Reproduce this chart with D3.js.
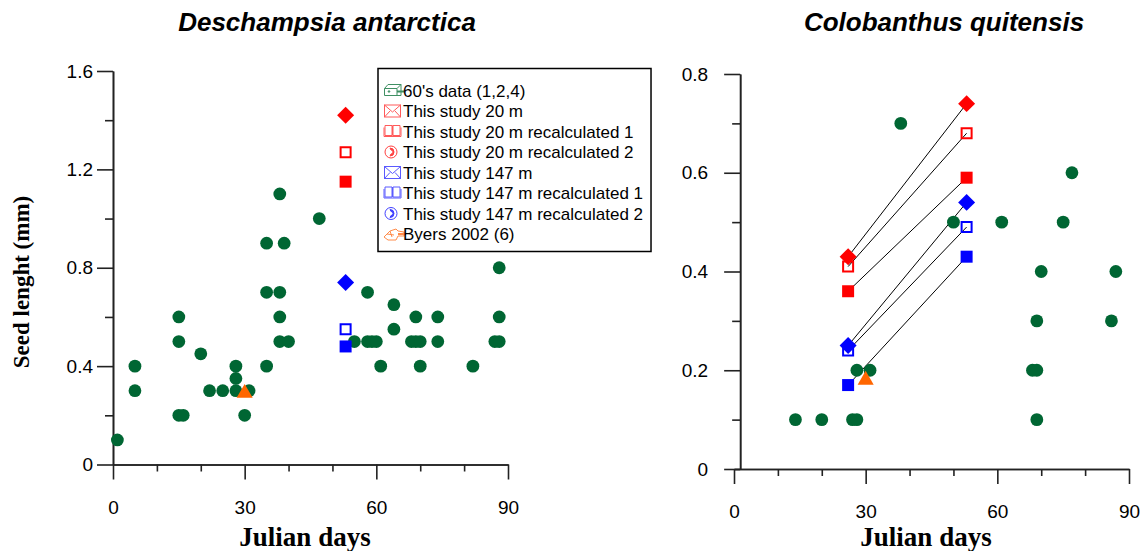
<!DOCTYPE html>
<html>
<head>
<meta charset="utf-8">
<script src="https://cdn.jsdelivr.net/npm/d3@7"></script>
<style>
  body { margin: 0; background: #fff; }
  svg { display: block; }
  .tick text { font-family: "Liberation Sans", Arial, sans-serif; font-size: 19px; fill: #000; }
  .domain, .tick line { stroke: #222; stroke-width: 1.6; }
  .title { font-family: "Liberation Sans", Arial, sans-serif; font-size: 26px; font-weight: bold; font-style: italic; }
  .axis-label { font-family: "Liberation Serif", "Times New Roman", serif; font-weight: bold; }
  .legend text { font-family: "Liberation Sans", Arial, sans-serif; font-size: 17px; }
</style>
</head>
<body>
<svg id="chart" width="1142" height="551"></svg>
<script>
const svg = d3.select("#chart");

// ---- ticks ----
var dayTicks = [0, 30, 60, 90];
var dayMinor = [10, 20, 40, 50, 70, 80];
var deschTicks = [0, 0.4, 0.8, 1.2, 1.6];
var deschMinor = [0.2, 0.6, 1.0, 1.4];
var coloTicks = [0, 0.2, 0.4, 0.6, 0.8];
var coloMinor = [0.1, 0.3, 0.5, 0.7];

var legendLabels = ["60's data (1,2,4)", "This study 20 m", "This study 20 m recalculated 1",
                    "This study 20 m recalculated 2", "This study 147 m", "This study 147 m recalculated 1",
                    "This study 147 m recalculated 2", "Byers 2002 (6)"];

// ---- Deschampsia antarctica: [julian day, seed length mm] ----
var desch60s = [[1,0.1],[5,0.4],[5,0.3],[15,0.6],[15,0.5],[15,0.2],[16,0.2],[20,0.45],[22,0.3],
                [25,0.3],[28,0.4],[28,0.35],[28,0.3],[30,0.2],[31,0.3],[35,0.9],[35,0.7],[35,0.4],
                [38,1.1],[38,0.7],[38,0.6],[38,0.5],[39,0.9],[40,0.5],[47,1.0],[55,0.5],[58,0.7],
                [58,0.5],[59,0.5],[60,0.5],[61,0.4],[64,0.65],[64,0.55],[68,0.5],[69,0.6],[69,0.5],
                [70,0.5],[70,0.4],[74,0.6],[74,0.5],[82,0.4],[87,0.5],[88,0.8],[88,0.6],[88,0.5]];
var deschStudy20 = [[53, 1.42]];
var deschStudy20r1 = [[53, 1.27]];
var deschStudy20r2 = [[53, 1.15]];
var deschStudy147 = [[53, 0.74]];
var deschStudy147r1 = [[53, 0.55]];
var deschStudy147r2 = [[53, 0.48]];
var deschByers = [[30, 0.29]];

// ---- Colobanthus quitensis ----
var colo60s = [[14,0.1],[20,0.1],[27,0.1],[28,0.1],[28,0.2],[31,0.2],[38,0.7],[50,0.5],[61,0.5],
               [68,0.2],[69,0.2],[69,0.3],[69,0.1],[70,0.4],[75,0.5],[77,0.6],[86,0.3],[87,0.4]];
var coloStudy20 = [[26, 0.43], [53, 0.74]];
var coloStudy20r1 = [[26, 0.41], [53, 0.68]];
var coloStudy20r2 = [[26, 0.36], [53, 0.59]];
var coloStudy147 = [[26, 0.25], [53, 0.54]];
var coloStudy147r1 = [[26, 0.24], [53, 0.49]];
var coloStudy147r2 = [[26, 0.17], [53, 0.43]];
var coloByers = [[30, 0.18]];

// marker style per series (legend order)
var seriesStyle = [
  {color: "#006633", shape: "circle",   icon: "cabinet",  iconColor: "#3f8f63"},
  {color: "#ff0000", shape: "diamond",  icon: "envelope", iconColor: "#ff5a5a"},
  {color: "#ff0000", shape: "open",     icon: "book",     iconColor: "#ff5a5a"},
  {color: "#ff0000", shape: "square",   icon: "phone",    iconColor: "#ff4040"},
  {color: "#0000ff", shape: "diamond",  icon: "envelope", iconColor: "#5a5aff"},
  {color: "#0000ff", shape: "open",     icon: "book",     iconColor: "#5a5aff"},
  {color: "#0000ff", shape: "square",   icon: "phone",    iconColor: "#4040ff"},
  {color: "#ff6600", shape: "triangle", icon: "hand",     iconColor: "#ff8c4a"}
];

var deschSeries = [desch60s, deschStudy20, deschStudy20r1, deschStudy20r2,
                   deschStudy147, deschStudy147r1, deschStudy147r2, deschByers];
var coloSeries = [colo60s, coloStudy20, coloStudy20r1, coloStudy20r2,
                  coloStudy147, coloStudy147r1, coloStudy147r2, coloByers];

function symbolPath(shape) {
  if (shape === "circle") return d3.symbol(d3.symbolCircle, 128)();
  if (shape === "triangle") return d3.symbol(d3.symbolTriangle, 112)();
  if (shape === "open") return d3.symbol(d3.symbolSquare, 100)();
  return d3.symbol(d3.symbolSquare, 144)();
}

var render = (panel, seriesList) => {
  var xScale = d3.scaleLinear().domain([0, 90]).range([panel.left, panel.left + 395]);
  var yScale = d3.scaleLinear().domain([0, panel.yMax]).range([panel.bottom, panel.top]);

  var g = svg.append("g");

  // x axis: minor + major ticks
  g.append("g").attr("transform", `translate(0,${panel.bottom})`)
    .call(d3.axisBottom(xScale).tickValues(dayMinor).tickSize(7).tickSizeOuter(0).tickFormat(""));
  g.append("g").attr("transform", `translate(0,${panel.bottom})`)
    .call(d3.axisBottom(xScale).tickValues(dayTicks).tickSize(15).tickSizeOuter(0).tickPadding(21));

  // y axis
  var yAxisX = xScale(panel.yAxisAt);
  g.append("g").attr("transform", `translate(${yAxisX},0)`)
    .call(d3.axisLeft(yScale).tickValues(panel.minor).tickSize(8).tickSizeOuter(0).tickFormat(""));
  g.append("g").attr("transform", `translate(${yAxisX},0)`)
    .call(d3.axisLeft(yScale).tickValues(panel.ticks).tickSize(16).tickSizeOuter(0)
      .tickPadding(panel.labelPad).tickFormat(d => d === 0 ? "0" : d3.format(".1f")(d)));

  g.append("text").attr("class", "title")
    .attr("x", panel.titleX).attr("y", 31)
    .attr("text-anchor", "middle")
    .text(panel.title);

  g.append("text").attr("class", "axis-label")
    .attr("x", panel.left + 192).attr("y", 546)
    .attr("text-anchor", "middle")
    .style("font-size", "27px")
    .text("Julian days");

  // connecting lines between the two harvest dates
  var lineGen = d3.line().x(d => xScale(d[0])).y(d => yScale(d[1]));
  g.selectAll(".pair").data(seriesList.slice(1).filter(s => s.length > 1))
    .enter().append("path")
    .attr("class", "pair")
    .attr("d", lineGen)
    .attr("fill", "none")
    .attr("stroke", "#000")
    .attr("stroke-width", 1);

  seriesList.forEach((data, i) => {
    var st = seriesStyle[i];
    g.selectAll(".s" + i).data(data)
      .enter().append("path")
      .attr("class", "s" + i)
      .attr("d", symbolPath(st.shape))
      .attr("transform", d => `translate(${xScale(d[0])},${yScale(d[1])})` + (st.shape === "diamond" ? " rotate(45)" : ""))
      .attr("fill", st.shape === "open" ? "none" : st.color)
      .attr("stroke", st.shape === "open" ? st.color : "none")
      .attr("stroke-width", 2);
  });
};

render({left: 113, top: 71, bottom: 464.5, yMax: 1.6, yAxisAt: 0, ticks: deschTicks, minor: deschMinor,
        labelPad: 4, title: "Deschampsia antarctica", titleX: 327}, deschSeries);
render({left: 734, top: 74, bottom: 469, yMax: 0.8, yAxisAt: 1.4, ticks: coloTicks, minor: coloMinor,
        labelPad: 16, title: "Colobanthus quitensis", titleX: 944}, coloSeries);

// y axis title (left panel only)
svg.append("text").attr("class", "axis-label")
  .attr("transform", "translate(29,282) rotate(-90)")
  .attr("text-anchor", "middle")
  .style("font-size", "23px")
  .text("Seed lenght (mm)");

// ---- legend ----
function drawIcon(ig, type, c) {
  ig.attr("fill", "none").attr("stroke", c).attr("stroke-width", 1);
  if (type === "envelope") {
    ig.append("rect").attr("x", 0.5).attr("y", -6).attr("width", 16).attr("height", 12);
    ig.append("path").attr("d", "M0.5,-6 L8.5,1 L16.5,-6 M0.5,6 L6,0 M16.5,6 L11,0");
  } else if (type === "book") {
    ig.append("path").attr("d", "M1,-6 h7 v10 h-7 Z M9,-6 h7 v10 h-7 Z M0,-4 v9 h17 v-9 M8.5,-6 v10");
  } else if (type === "phone") {
    ig.append("circle").attr("cx", 7).attr("cy", 0).attr("r", 6);
    ig.append("path").attr("d", "M6,-4 q4,0 4,4 q0,4 -4,4 l1,-2 q2,0 2,-2 q0,-2 -2,-2 Z").attr("fill", c);
  } else if (type === "cabinet") {
    ig.append("path").attr("d", "M0.5,-2 L4,-6 L17,-6 L17,5 L0.5,5 Z M0.5,-2 L13,-2 L13,5 M13,-2 L17,-6");
    ig.append("path").attr("d", "M13,1 L20,1").attr("stroke-width", 2);
    ig.append("circle").attr("cx", 5).attr("cy", 1).attr("r", 0.8).attr("fill", c);
  } else if (type === "hand") {
    ig.append("path").attr("d", "M0,3 L6,-3 L12,-5 L14,-3 L20,-2 L20,2 L14,2 L12,6 L4,6 Z M6,-3 L8,3 M3,0 L10,1");
    ig.append("path").attr("d", "M14,0 L22,0").attr("stroke-width", 2);
  }
}

var legend = svg.append("g").attr("class", "legend");
var legendBox = legend.append("rect")
  .attr("x", 378).attr("y", 68.5).attr("height", 183)
  .attr("fill", "#fff").attr("stroke", "#000").attr("stroke-width", 1.5);

var maxW = 0;
legendLabels.forEach((label, i) => {
  var rowY = 90.5 + i * 20.5;
  var ig = legend.append("g").attr("transform", `translate(384,${rowY})`);
  drawIcon(ig, seriesStyle[i].icon, seriesStyle[i].iconColor);
  var t = legend.append("text")
    .attr("x", 403).attr("y", rowY + 6)
    .text(label);
  maxW = Math.max(maxW, t.node().getComputedTextLength());
});
legendBox.attr("width", 403 - 378 + maxW + 8);
</script>
</body>
</html>
